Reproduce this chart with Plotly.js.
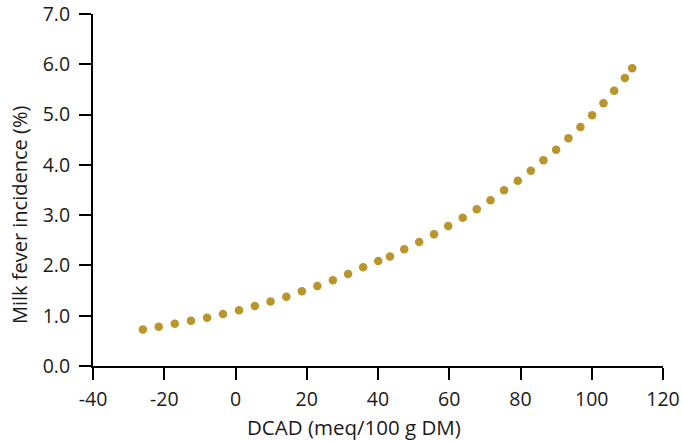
<!DOCTYPE html>
<html>
<head>
<meta charset="utf-8">
<script src="https://cdn.plot.ly/plotly-3.0.1.min.js"></script>
<style>html,body{margin:0;padding:0;background:#fff;}#chart{width:682px;height:441px;}</style>
</head>
<body>
<div id="chart"></div>
<script>
const dcad = [-26.0, -21.55, -17.05, -12.5, -7.98, -3.51, 0.98, 5.42, 9.83, 14.27, 18.63, 22.98, 27.34, 31.61, 35.83, 40.07, 43.36, 47.37, 51.56, 55.72, 59.71, 63.78, 67.72, 71.59, 75.39, 79.24, 82.89, 86.43, 90.0, 93.45, 96.82, 100.11, 103.29, 106.29, 109.30, 111.35];
const incidence = [0.726, 0.781, 0.841, 0.901, 0.960, 1.034, 1.110, 1.193, 1.283, 1.378, 1.485, 1.591, 1.706, 1.829, 1.965, 2.088, 2.177, 2.321, 2.466, 2.621, 2.784, 2.947, 3.118, 3.295, 3.494, 3.685, 3.883, 4.090, 4.301, 4.528, 4.752, 4.985, 5.224, 5.474, 5.727, 5.920];
const xTicks = [-40, -20, 0, 20, 40, 60, 80, 100, 120];
const yTicks = [0, 1, 2, 3, 4, 5, 6, 7];
const xTitle = "DCAD (meq/100 g DM)";
const yTitle = "Milk fever incidence (%)";

const fam = "'Open Sans', 'Noto Sans', sans-serif";
const tickFont = {family: fam, size: 19.5, color: "#1a1a1a"};
const xTitleFont = {family: fam, size: 20.5, color: "#1a1a1a"};
const yTitleFont = {family: fam, size: 20, color: "#1a1a1a"};

Plotly.newPlot("chart", [{
  x: dcad, y: incidence, type: "scatter", mode: "markers",
  marker: {color: "#BA952C", size: 8.5, line: {width: 0}},
  hoverinfo: "skip"
}], {
  width: 682, height: 441,
  margin: {l: 93, r: 19, t: 14, b: 75},
  paper_bgcolor: "#fff", plot_bgcolor: "#fff",
  showlegend: false,
  font: tickFont,
  xaxis: {
    range: [-40, 120], tickvals: xTicks, ticktext: xTicks.map(String),
    showgrid: false, zeroline: false, showline: true, linecolor: "#000", linewidth: 2,
    ticks: "outside", ticklen: 12, tickwidth: 2, tickcolor: "#000",
    tickfont: tickFont, ticklabelstandoff: 3, ticklabeloverflow: "allow", fixedrange: true
  },
  yaxis: {
    range: [0, 7], tickvals: yTicks, ticktext: yTicks.map(v => v.toFixed(1)),
    showgrid: false, zeroline: false, showline: true, linecolor: "#000", linewidth: 2,
    ticks: "outside", ticklen: 12, tickwidth: 2, tickcolor: "#000",
    tickfont: tickFont, ticklabelstandoff: 5, ticklabeloverflow: "allow", fixedrange: true
  },
  annotations: [
    {text: xTitle, xref: "paper", yref: "paper", x: 0.458, y: -0.172, xanchor: "center", yanchor: "middle", showarrow: false, font: xTitleFont},
    {text: yTitle, xref: "paper", yref: "paper", x: -0.128, y: 0.429, xanchor: "center", yanchor: "middle", textangle: -90, showarrow: false, font: yTitleFont}
  ]
}, {displayModeBar: false, staticPlot: true});
</script>
</body>
</html>
